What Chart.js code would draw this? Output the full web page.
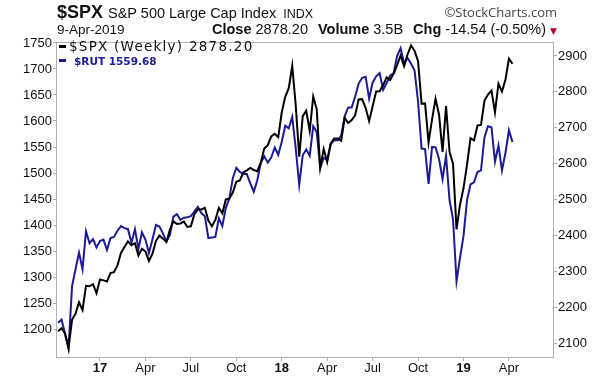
<!DOCTYPE html>
<html><head><meta charset="utf-8">
<script src="https://cdn.jsdelivr.net/npm/chart.js@4"></script>
<style>
html,body{margin:0;padding:0;background:#fff;}
#wrap{position:relative;width:612px;height:378px;overflow:hidden;font-family:"Liberation Sans",Arial,sans-serif;color:#111;}
canvas{position:absolute;left:0;top:0;}
.t{position:absolute;white-space:nowrap;line-height:1;}
.g{margin-left:10px;}
</style></head><body>
<div id="wrap">
<canvas id="c" width="612" height="378"></canvas>
<div class="t" style="left:57px;top:3px;font-size:18px;"><b>$SPX</b><span style="font-size:14.5px;margin-left:5px">S&amp;P 500 Large Cap Index</span><span style="font-size:12.5px;margin-left:7px">INDX</span></div>
<div class="t" style="right:55px;top:5.5px;font-family:'Open Sans',sans-serif;font-size:13px;color:#444;">©StockCharts.com</div>
<div class="t" style="left:57px;top:22.5px;font-size:13.5px;">9-Apr-2019</div>
<div class="t" style="right:55px;top:22px;font-size:14.5px;"><b>Close</b> 2878.20<b class="g">Volume</b> 3.5B<b class="g">Chg</b> -14.54 (-0.50%)<span style="font-family:'DejaVu Sans';font-size:9px;color:#b5002a;margin-left:4px">▼</span></div>
<div style="position:absolute;left:59px;top:45px;width:7px;height:2.6px;background:#000;"></div>
<div class="t" style="left:69px;top:39.5px;font-family:'DejaVu Sans',sans-serif;font-size:13.5px;letter-spacing:1.25px;color:#111;">$SPX (Weekly) 2878.20</div>
<div style="position:absolute;left:59px;top:59px;width:7px;height:2.6px;background:#1b1b96;"></div>
<div class="t" style="left:74px;top:55.5px;font-family:'DejaVu Sans',sans-serif;font-size:10.5px;font-weight:bold;color:#1b1b96;">$RUT 1559.68</div>
</div>
<script>
const dates = [
'2016-10-14','2016-10-21','2016-10-28','2016-11-04','2016-11-11','2016-11-18','2016-11-25','2016-12-02','2016-12-09','2016-12-16','2016-12-23','2016-12-30',
'2017-01-06','2017-01-13','2017-01-20','2017-01-27','2017-02-03','2017-02-10','2017-02-17','2017-02-24','2017-03-03','2017-03-10','2017-03-17','2017-03-24','2017-03-31',
'2017-04-07','2017-04-14','2017-04-21','2017-04-28','2017-05-05','2017-05-12','2017-05-19','2017-05-26','2017-06-02','2017-06-09','2017-06-16','2017-06-23','2017-06-30',
'2017-07-07','2017-07-14','2017-07-21','2017-07-28','2017-08-04','2017-08-11','2017-08-18','2017-08-25','2017-09-01','2017-09-08','2017-09-15','2017-09-22','2017-09-29',
'2017-10-06','2017-10-13','2017-10-20','2017-10-27','2017-11-03','2017-11-10','2017-11-17','2017-11-24','2017-12-01','2017-12-08','2017-12-15','2017-12-22','2017-12-29',
'2018-01-05','2018-01-12','2018-01-19','2018-01-26','2018-02-02','2018-02-09','2018-02-16','2018-02-23','2018-03-02','2018-03-09','2018-03-16','2018-03-23','2018-03-30',
'2018-04-06','2018-04-13','2018-04-20','2018-04-27','2018-05-04','2018-05-11','2018-05-18','2018-05-25','2018-06-01','2018-06-08','2018-06-15','2018-06-22','2018-06-29',
'2018-07-06','2018-07-13','2018-07-20','2018-07-27','2018-08-03','2018-08-10','2018-08-17','2018-08-24','2018-08-31','2018-09-07','2018-09-14','2018-09-21','2018-09-28',
'2018-10-05','2018-10-12','2018-10-19','2018-10-26','2018-11-02','2018-11-09','2018-11-16','2018-11-23','2018-11-30','2018-12-07','2018-12-14','2018-12-21','2018-12-28',
'2019-01-04','2019-01-11','2019-01-18','2019-01-25','2019-02-01','2019-02-08','2019-02-15','2019-02-22','2019-03-01','2019-03-08','2019-03-15','2019-03-22','2019-03-29',
'2019-04-05','2019-04-09'];

const spx = [
2132.98,2141.16,2126.41,2085.18,2164.45,2181.90,2213.35,2191.95,2259.53,2258.07,2263.79,2238.83,
2276.98,2274.64,2271.31,2294.69,2297.42,2316.10,2351.16,2367.34,2383.12,2372.60,2378.25,2343.98,2362.72,
2355.54,2328.95,2348.69,2384.20,2399.29,2390.90,2381.73,2415.82,2439.07,2431.77,2433.15,2438.30,2423.41,
2425.18,2459.27,2472.54,2472.10,2476.83,2441.32,2425.55,2443.05,2476.55,2461.43,2500.23,2502.22,2519.36,
2549.33,2553.17,2575.21,2581.07,2587.84,2582.30,2578.85,2602.42,2642.22,2651.50,2675.81,2683.34,2673.61,
2743.15,2786.24,2810.30,2872.87,2762.13,2619.55,2732.22,2747.30,2691.25,2786.57,2752.01,2588.26,2640.87,
2604.47,2656.30,2670.14,2669.91,2663.42,2727.72,2712.97,2721.33,2734.62,2779.03,2779.66,2754.88,2718.37,
2759.82,2801.31,2801.83,2818.82,2840.35,2833.28,2850.13,2874.69,2901.52,2871.68,2904.98,2929.67,2913.98,
2885.57,2767.13,2767.78,2658.69,2723.06,2781.01,2736.27,2632.56,2760.17,2633.08,2599.95,2416.62,2485.74,
2531.94,2596.26,2670.71,2664.76,2706.53,2707.88,2775.60,2792.67,2803.69,2743.07,2822.48,2800.71,2834.40,
2892.74,2878.20];

const rut = [
1212,1218,1191,1163,1282,1315,1347,1315,1388,1365,1373,1357,
1369,1372,1352,1375,1377,1389,1398,1394,1392,1366,1392,1354,1386,
1372,1346,1372,1400,1397,1384,1368,1381,1416,1421,1410,1414,1415,
1417,1426,1435,1423,1417,1375,1376,1377,1413,1398,1433,1451,1490,
1510,1502,1498,1498,1480,1464,1486,1519,1532,1520,1530,1549,1535,
1560,1591,1586,1608,1547,1477,1534,1545,1533,1590,1579,1510,1529,
1525,1555,1563,1563,1572,1609,1626,1626,1647,1672,1683,1685,1643,
1674,1686,1692,1660,1673,1687,1692,1725,1740,1711,1721,1710,1697,
1637,1547,1546,1479,1550,1549,1527,1488,1533,1448,1411,1292,1337,
1379,1448,1478,1482,1502,1505,1569,1590,1588,1522,1553,1505,1539,
1582,1559.68];

const tickMonths = ['2017-01','2017-04','2017-07','2017-10','2018-01','2018-04','2018-07','2018-10','2019-01','2019-04'];
const tickLabels = ['17','Apr','Jul','Oct','18','Apr','Jul','Oct','19','Apr'];
const rutTicks = [1200,1250,1300,1350,1400,1450,1500,1550,1600,1650,1700,1750];
const spxTicks = [2100,2200,2300,2400,2500,2600,2700,2800,2900];

const tickIdx = tickMonths.map(m => dates.findIndex(d => d.startsWith(m)));
const AX = '#b0b0b0';

const frame = {
  id: 'frame',
  afterDatasetsDraw(chart) {
    const {ctx, chartArea: a} = chart;
    ctx.save();
    ctx.strokeStyle = AX; ctx.lineWidth = 1;
    ctx.strokeRect(Math.round(a.left) - 0.5, Math.round(a.top) + 0.5, Math.round(a.right - a.left) + 1, Math.round(a.bottom - a.top));
    ctx.restore();
  }
};

new Chart(document.getElementById('c'), {
  type: 'line',
  data: {
    datasets: [
      { label: '$SPX', data: spx.map((v, i) => ({x: i, y: v})), yAxisID: 'y2', borderColor: '#000', borderWidth: 2, pointRadius: 0, tension: 0 },
      { label: '$RUT', data: rut.map((v, i) => ({x: i, y: v})), yAxisID: 'y', borderColor: '#1b1b96', borderWidth: 2, pointRadius: 0, tension: 0 }
    ]
  },
  options: {
    responsive: false, animation: false, devicePixelRatio: 1,
    layout: { padding: { top: 42, left: 0, right: 0, bottom: 0 } },
    plugins: { legend: { display: false }, tooltip: { enabled: false } },
    scales: {
      x: {
        type: 'linear', min: -0.3, max: 141.6,
        afterBuildTicks: s => { s.ticks = tickIdx.map(v => ({ value: v })); },
        afterFit: s => { s.height = 21; },
        ticks: {
          autoSkip: false, maxRotation: 0, padding: 0, color: '#111',
          font: c => ({ family: 'Liberation Sans', size: 13, weight: /^\d+$/.test(tickLabels[c.index]) ? 'bold' : 'normal' }),
          callback: (v, i) => tickLabels[i]
        },
        grid: { drawOnChartArea: false, drawTicks: true, tickLength: 4, color: AX },
        border: { display: false }
      },
      y: {
        position: 'left', min: 1146.2, max: 1751.9,
        afterBuildTicks: s => { s.ticks = rutTicks.map(v => ({ value: v })); },
        afterFit: s => { s.width = 57; },
        ticks: { padding: 1, color: '#111', font: { family: 'Liberation Sans', size: 13 }, callback: v => String(v) },
        grid: { drawOnChartArea: false, drawTicks: true, tickLength: 4, color: AX },
        border: { display: false }
      },
      y2: {
        position: 'right', min: 2061, max: 2939,
        afterBuildTicks: s => { s.ticks = spxTicks.map(v => ({ value: v })); },
        afterFit: s => { s.width = 59; },
        ticks: { padding: 1, color: '#111', font: { family: 'Liberation Sans', size: 13 }, callback: v => String(v) },
        grid: { drawOnChartArea: false, drawTicks: true, tickLength: 4, color: AX },
        border: { display: false }
      }
    }
  },
  plugins: [frame]
});
</script>
</body></html>
